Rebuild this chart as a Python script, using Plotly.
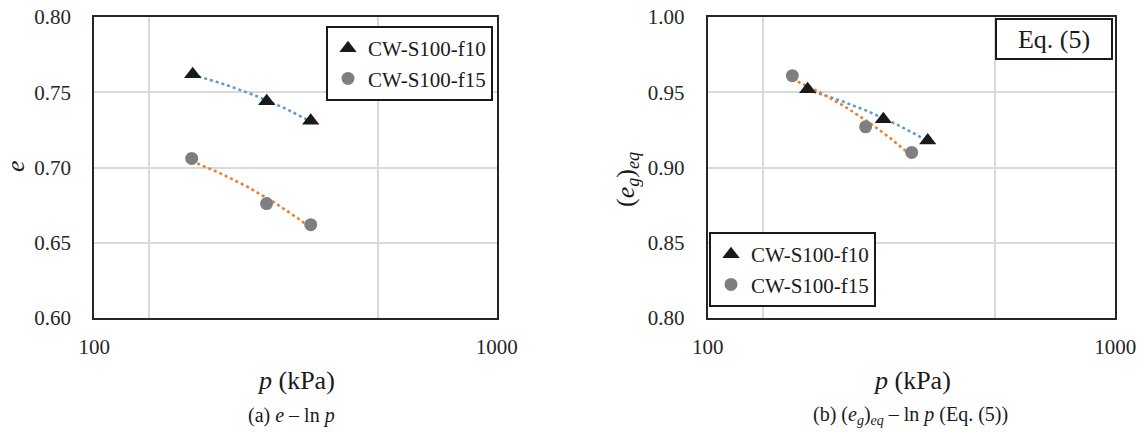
import numpy as np
import plotly.graph_objects as go

# ---------------- data ----------------
p_f10 = [175.6, 268.2, 345.0]
e_f10 = [0.762, 0.744, 0.731]
p_f15 = [174.6, 268.0, 345.0]
e_f15 = [0.706, 0.676, 0.662]

p_f10_eq = [175.9, 269.7, 346.6]
eg_f10 = [0.952, 0.932, 0.918]
p_f15_eq = [161.3, 244.0, 316.6]
eg_f15 = [0.961, 0.927, 0.910]

names = ["CW-S100-f10", "CW-S100-f15"]
x_ticks = [100, 1000]
x_grid = [137, 507]
y_ticks_a = [0.60, 0.65, 0.70, 0.75, 0.80]
y_ticks_b = [0.80, 0.85, 0.90, 0.95, 1.00]

FONT = "Liberation Serif"
BLUE = "#5b9bd5"
ORANGE = "#ed7d31"
TRI = "#1a1a1a"
GREY = "#7f7f7f"
GRID = "#d9d9d9"
FRAME = "#262626"

W, H = 1139, 432


def trend(px, py):
    """Linear trendline (Excel style) fitted to the data."""
    a, b = np.polyfit(px, py, 1)
    xs = np.linspace(min(px), max(px), 60)
    return xs, a * xs + b


fig = go.Figure()

panels = [
    ("x", "y", "legend", p_f10, e_f10, p_f15, e_f15),
    ("x2", "y2", "legend2", p_f10_eq, eg_f10, p_f15_eq, eg_f15),
]
for xa, ya, lg, px1, py1, px2, py2 in panels:
    for px, py, col in [(px1, py1, BLUE), (px2, py2, ORANGE)]:
        tx, ty = trend(px, py)
        fig.add_trace(go.Scatter(x=tx, y=ty, mode="lines", xaxis=xa, yaxis=ya,
                                 line=dict(color=col, width=2.5, dash="dot"),
                                 showlegend=False, hoverinfo="skip"))
    fig.add_trace(go.Scatter(x=px1, y=py1, mode="markers", name=names[0],
                             xaxis=xa, yaxis=ya, legend=lg,
                             marker=dict(symbol="triangle-up", size=15, color=TRI)))
    fig.add_trace(go.Scatter(x=px2, y=py2, mode="markers", name=names[1],
                             xaxis=xa, yaxis=ya, legend=lg,
                             marker=dict(symbol="circle", size=13, color=GREY)))

xdomA = [94.3 / W, 496.7 / W]
xdomB = [707.7 / W, 1115.3 / W]
ydom = [(H - 318) / H, (H - 17) / H]

common_x = dict(type="log", range=[2, 3], tickmode="array", tickvals=x_ticks,
                ticktext=[str(v) for v in x_ticks], showgrid=False,
                showline=True, mirror=True, linecolor=FRAME, linewidth=2,
                ticks="", ticklabelstandoff=9, automargin=False,
                tickfont=dict(family=FONT, size=21, color="#262626"),
                minor=dict(tickmode="array", tickvals=x_grid, showgrid=True,
                           gridcolor=GRID, gridwidth=2, ticks=""),
                zeroline=False)

common_y = dict(tickformat=".2f", showgrid=True, gridcolor=GRID, gridwidth=2,
                showline=True, mirror=True, linecolor=FRAME, linewidth=2,
                ticks="", ticklabelstandoff=17, zeroline=False, automargin=False,
                tickfont=dict(family=FONT, size=21, color="#262626"))

fig.update_layout(
    width=W, height=H,
    margin=dict(l=0, r=0, t=0, b=0),
    paper_bgcolor="white", plot_bgcolor="white",
    font=dict(family=FONT, color="#1a1a1a"),
    xaxis=dict(domain=xdomA, anchor="y", **common_x),
    yaxis=dict(domain=ydom, anchor="x", range=[0.6, 0.8], tickmode="array",
               tickvals=y_ticks_a, **common_y),
    xaxis2=dict(domain=xdomB, anchor="y2", **common_x),
    yaxis2=dict(domain=ydom, anchor="x2", range=[0.8, 1.0], tickmode="array",
                tickvals=y_ticks_b, **common_y),
    legend=dict(x=493 / W, xanchor="right", y=(H - 26) / H, yanchor="top",
                bgcolor="white", bordercolor="#1a1a1a", borderwidth=2,
                font=dict(family=FONT, size=21, color="#1a1a1a"),
                itemwidth=30, tracegroupgap=0),
    legend2=dict(x=709 / W, xanchor="left", y=(H - 232) / H, yanchor="top",
                 bgcolor="white", bordercolor="#1a1a1a", borderwidth=2,
                 font=dict(family=FONT, size=21, color="#1a1a1a"),
                 itemwidth=30, tracegroupgap=0),
    showlegend=True,
)

ann = [
    dict(text="Eq. (5)", x=1113 / W, xanchor="right", y=(H - 18) / H, yanchor="top",
         font=dict(family=FONT, size=26, color="#1a1a1a"), width=112, height=36,
         bordercolor="#1a1a1a", borderwidth=2, bgcolor="white", showarrow=False),
    dict(text="<i>e</i>", x=15 / W, xanchor="center", y=(H - 166) / H, textangle=-90,
         font=dict(family=FONT, size=26), showarrow=False),
    dict(text="(<i>e<sub>g</sub></i>)<sub><i>eq</i></sub>", x=627 / W, xanchor="center",
         y=(H - 180) / H, textangle=-90, font=dict(family=FONT, size=26), showarrow=False),
    dict(text="<i>p</i> (kPa)", x=295.5 / W, xanchor="center", y=(H - 380) / H,
         font=dict(family=FONT, size=26), showarrow=False),
    dict(text="<i>p</i> (kPa)", x=911.5 / W, xanchor="center", y=(H - 380) / H,
         font=dict(family=FONT, size=26), showarrow=False),
    dict(text="(a) <i>e</i> – ln <i>p</i>", x=291 / W, xanchor="center", y=(H - 415) / H,
         font=dict(family=FONT, size=20), showarrow=False),
    dict(text="(b) (<i>e<sub>g</sub></i>)<sub><i>eq</i></sub> – ln <i>p</i> (Eq. (5))",
         x=910 / W, xanchor="center", y=(H - 415) / H, font=dict(family=FONT, size=20),
         showarrow=False),
]
for a in ann:
    a.setdefault("xref", "paper")
    a.setdefault("yref", "paper")
    a.setdefault("yanchor", "middle")
fig.update_layout(annotations=ann)

fig.write_html("out.html", config={"displayModeBar": False},
               post_script="document.body.style.margin='0';document.body.style.padding='0';")
